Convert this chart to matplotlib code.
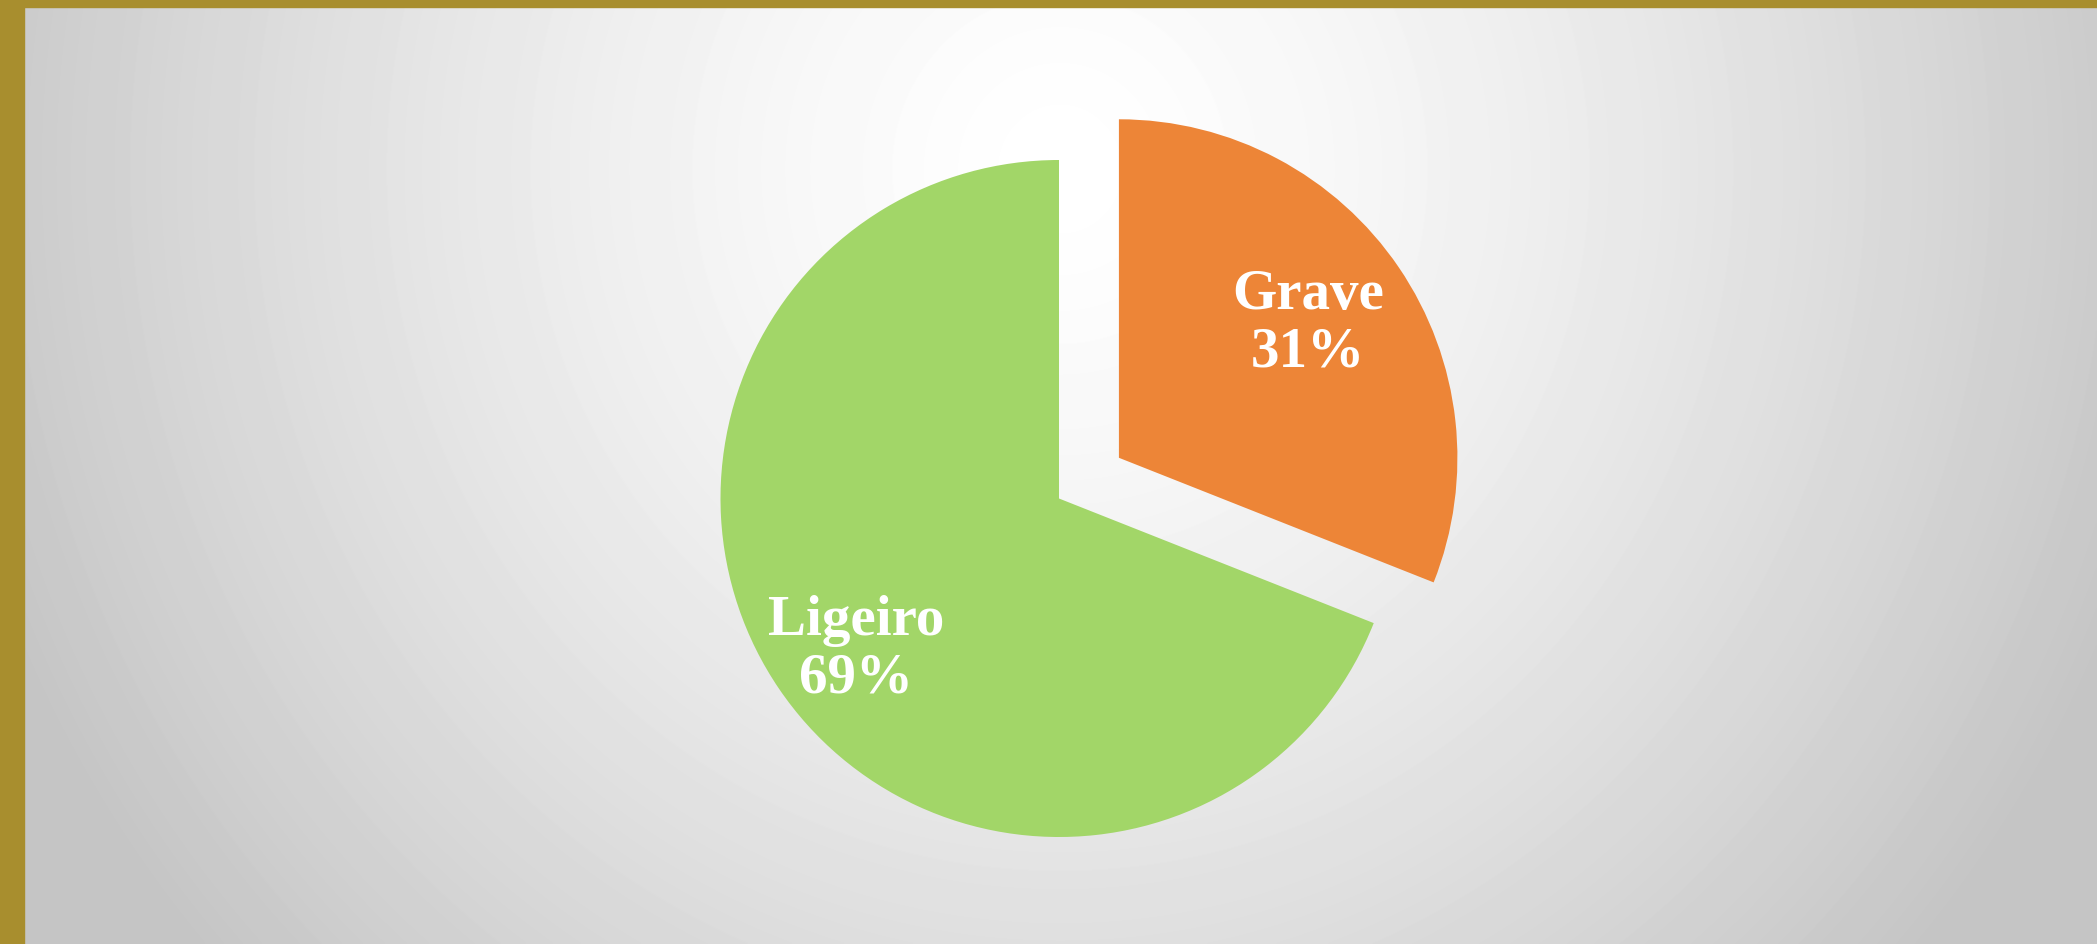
"""
Pie chart: Ligeiro vs Grave, with the Grave slice pulled out.

Output:
    out.png
"""

import numpy as np
import matplotlib.pyplot as plt
from matplotlib.patches import Rectangle

categories = ["Grave", "Ligeiro"]
shares = [31, 69]
slice_colors = ["#ED8537", "#A2D668"]

W, H = 2097, 945
fig = plt.figure(figsize=(W / 100, H / 100), dpi=100)
ax = fig.add_axes([0, 0, 1, 1])

# light grey radial background, whitest near the top middle
yy, xx = np.mgrid[0:H, 0:W]
d = np.sqrt(((xx - 1060) / 1036) ** 2 + ((yy - 170) / 1080) ** 2)
shade = np.clip(1.0 - 0.20 * d ** 1.4, 0.77, 1.0)
ax.imshow(shade, cmap="gray", vmin=0, vmax=1, extent=(0, W, 0, H),
          origin="upper", zorder=0, aspect="auto", interpolation="bilinear")

cx, cy, r = 1059, H - 499.5, 338.5
# pie's explode is in data units, so scale it by the radius
wedges, _ = ax.pie(shares, colors=slice_colors, startangle=90, counterclock=False,
                   explode=[0.214 * r, 0], center=(cx, cy), radius=r, frame=True,
                   wedgeprops=dict(linewidth=0, zorder=2))
ax.set_xlim(0, W)
ax.set_ylim(0, H)
ax.axis("off")

# label offsets from each wedge's own centre, in units of the radius
label_offsets = [(0.559, 0.399), (-0.600, -0.443)]
for w, name, pct, (ox, oy) in zip(wedges, categories, shares, label_offsets):
    x = w.center[0] + ox * r
    y = w.center[1] + oy * r
    ax.text(x, y, f"{name}\n{pct}%", ha="center", va="center", color="white",
            fontsize=41, fontweight="bold", family="Liberation Serif",
            linespacing=1.13, zorder=3)

# gold frame on the left and top edges
fig.patches.append(Rectangle((0, 0), 24 / W, 1, transform=fig.transFigure,
                             color="#A88E2E", zorder=5))
fig.patches.append(Rectangle((0, 1 - 8 / H), 1, 8 / H, transform=fig.transFigure,
                             color="#A88E2E", zorder=5))

fig.savefig("out.png", dpi=100)
